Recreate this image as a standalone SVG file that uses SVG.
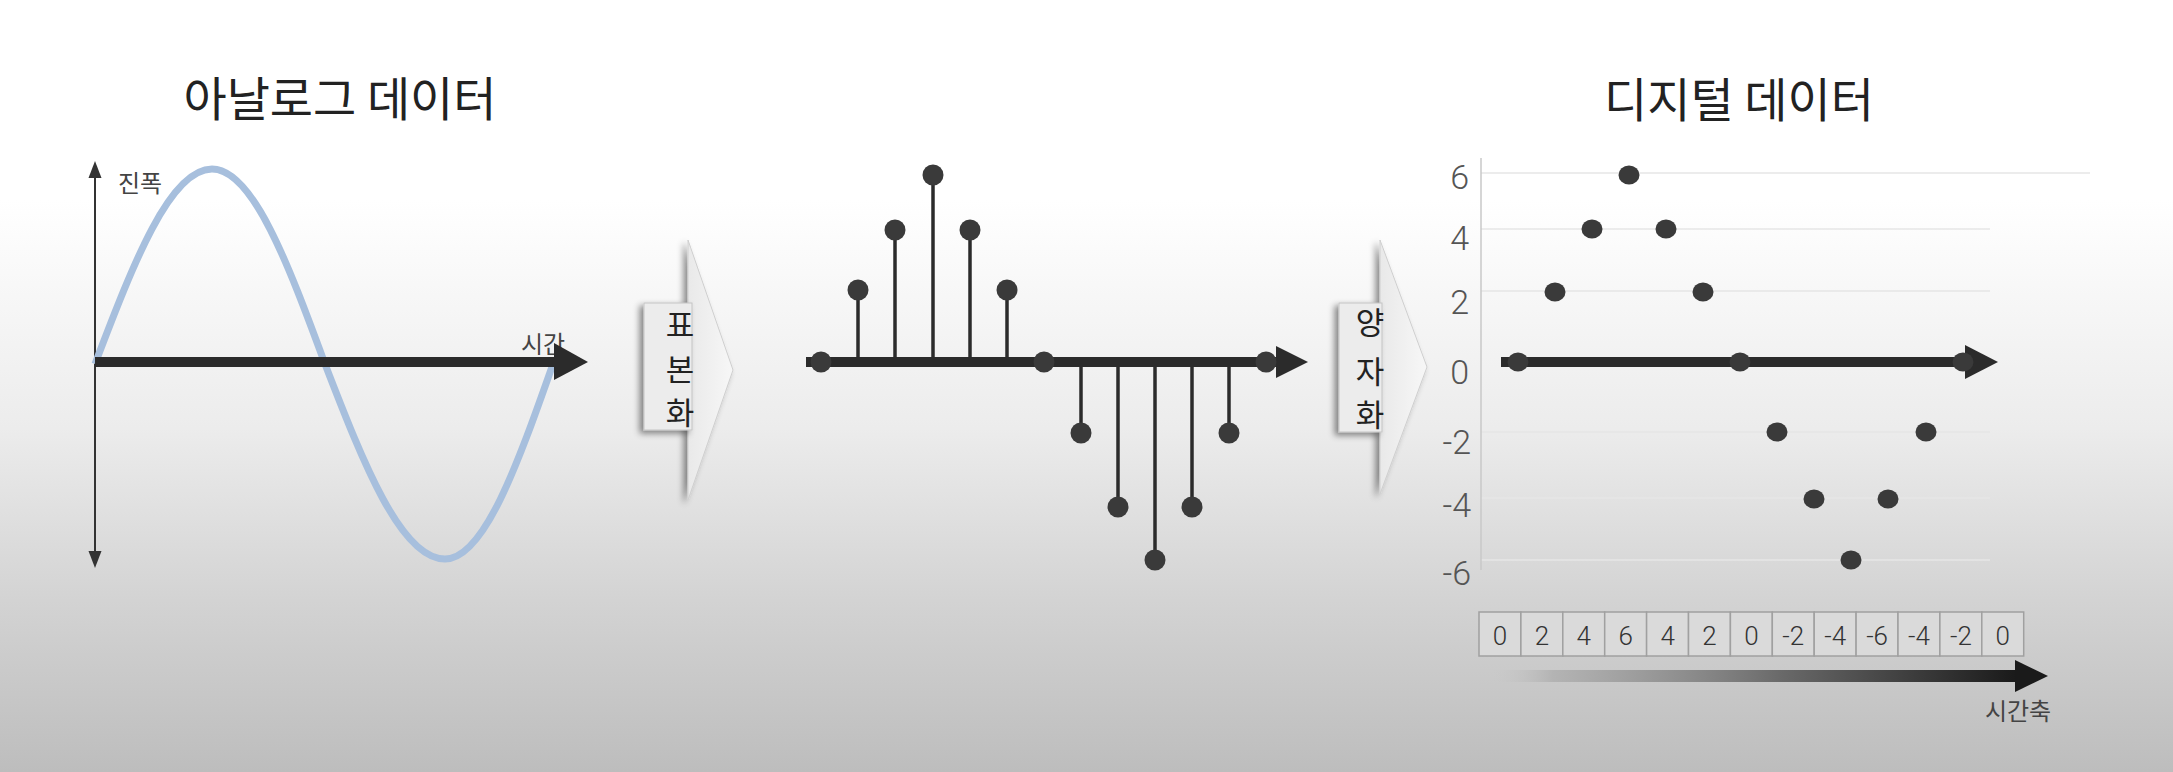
<svg xmlns="http://www.w3.org/2000/svg" width="2173" height="772" viewBox="0 0 2173 772">
<defs>
<linearGradient id="bg" gradientUnits="userSpaceOnUse" x1="0" y1="200" x2="0" y2="772">
<stop offset="0" stop-color="#ffffff"/>
<stop offset="0.4" stop-color="#ececec"/>
<stop offset="0.7" stop-color="#d3d3d3"/>
<stop offset="1" stop-color="#bdbdbd"/>
</linearGradient>
<linearGradient id="chev" x1="0" y1="0" x2="1" y2="0">
<stop offset="0" stop-color="#e9e9e9"/>
<stop offset="1" stop-color="#f7f7f7"/>
</linearGradient>
<linearGradient id="timebar" gradientUnits="userSpaceOnUse" x1="1490" y1="0" x2="2016" y2="0">
<stop offset="0" stop-color="#c8c8c8" stop-opacity="0"/>
<stop offset="0.12" stop-color="#aaaaaa" stop-opacity="0.7"/>
<stop offset="0.55" stop-color="#6a6a6a"/>
<stop offset="1" stop-color="#1a1a1a"/>
</linearGradient>
<filter id="shadow" x="-50%" y="-20%" width="200%" height="140%">
<feDropShadow dx="-4" dy="3" stdDeviation="3" flood-color="#000" flood-opacity="0.45"/>
</filter>
<style>
.title{font-family:'Noto Sans CJK KR',sans-serif;font-size:47px;fill:#222;text-anchor:middle}
.lbl{font-family:'Noto Sans CJK KR',sans-serif;font-size:24px;fill:#444}
.vlbl{font-family:'Noto Sans CJK KR',sans-serif;font-size:31px;fill:#222;text-anchor:middle;dominant-baseline:central}
.ytick{font-family:Roboto,'Liberation Sans',sans-serif;font-weight:300;font-size:34px;fill:#555;text-anchor:end}
.cell{font-family:Roboto,'Liberation Sans',sans-serif;font-weight:300;font-size:26px;fill:#333;text-anchor:middle}
.axis{stroke:#2b2b2b;stroke-width:10}
.stem{stroke:#2b2b2b;stroke-width:3.5}
.dot{fill:#3a3a3a}
.grid{stroke:#e6e6e6;stroke-width:1.5}
.box{fill:#dadada;stroke:#a0a0a0;stroke-width:1.5}
</style>
</defs>
<rect width="2173" height="772" fill="url(#bg)"/>

<g id="title-analog"><text class="title" x="340" y="116">아날로그 데이터</text></g>
<g id="title-digital"><text class="title" x="1739" y="117">디지털 데이터</text></g>

<g id="chart-analog">
<line x1="95" y1="174" x2="95" y2="555" stroke="#333" stroke-width="2"/>
<polygon points="95,161 88.5,178 101.5,178" fill="#333"/>
<polygon points="95,568 88.5,551 101.5,551" fill="#333"/>
<path d="M95,364 C133.1,264.1 169.6,169 212,169 C252.9,169 288.2,264.1 325,364 C363.5,463.9 401.2,559 445,559 C484.1,559 517.8,463.9 553,364" fill="none" stroke="#a7bfdd" stroke-width="7"/>
<text class="lbl" x="118" y="192">진폭</text>
<text class="lbl" x="521" y="353">시간</text>
<line class="axis" x1="95" y1="362" x2="558" y2="362"/>
<polygon points="554,343 588,362 554,380" fill="#2b2b2b"/>
</g>

<g id="connectors">
<g id="chevron-sampling">
<polygon points="688,240 733,370 688,500" fill="url(#chev)" stroke="#cfcfcf" stroke-width="1" filter="url(#shadow)"/>
<rect x="644" y="303" width="48" height="127" fill="#ececec" stroke="#c4c4c4" stroke-width="1" filter="url(#shadow)"/>
<text class="vlbl" x="680" y="322">표</text>
<text class="vlbl" x="680" y="367">본</text>
<text class="vlbl" x="680" y="410">화</text>
</g>
<g id="chevron-quantize">
<polygon points="1380,240 1427,367 1380,494" fill="url(#chev)" stroke="#cfcfcf" stroke-width="1" filter="url(#shadow)"/>
<rect x="1339" y="303" width="43" height="129" fill="#ececec" stroke="#c4c4c4" stroke-width="1" filter="url(#shadow)"/>
<text class="vlbl" x="1370" y="320">양</text>
<text class="vlbl" x="1370" y="369">자</text>
<text class="vlbl" x="1370" y="412">화</text>
</g>
</g>

<g id="chart-sampled">
<line class="stem" x1="858" y1="362" x2="858" y2="290"/>
<line class="stem" x1="895" y1="362" x2="895" y2="230"/>
<line class="stem" x1="933" y1="362" x2="933" y2="175"/>
<line class="stem" x1="970" y1="362" x2="970" y2="230"/>
<line class="stem" x1="1007" y1="362" x2="1007" y2="290"/>
<line class="stem" x1="1081" y1="362" x2="1081" y2="433"/>
<line class="stem" x1="1118" y1="362" x2="1118" y2="507"/>
<line class="stem" x1="1155" y1="362" x2="1155" y2="560"/>
<line class="stem" x1="1192" y1="362" x2="1192" y2="507"/>
<line class="stem" x1="1229" y1="362" x2="1229" y2="433"/>
<line class="axis" x1="806" y1="362" x2="1280" y2="362"/>
<polygon points="1276,346 1308,362 1276,378" fill="#2b2b2b"/>
<ellipse class="dot" cx="821" cy="362" rx="10.5" ry="10.5"/>
<ellipse class="dot" cx="858" cy="290" rx="10.5" ry="10.5"/>
<ellipse class="dot" cx="895" cy="230" rx="10.5" ry="10.5"/>
<ellipse class="dot" cx="933" cy="175" rx="10.5" ry="10.5"/>
<ellipse class="dot" cx="970" cy="230" rx="10.5" ry="10.5"/>
<ellipse class="dot" cx="1007" cy="290" rx="10.5" ry="10.5"/>
<ellipse class="dot" cx="1044" cy="362" rx="10.5" ry="10.5"/>
<ellipse class="dot" cx="1081" cy="433" rx="10.5" ry="10.5"/>
<ellipse class="dot" cx="1118" cy="507" rx="10.5" ry="10.5"/>
<ellipse class="dot" cx="1155" cy="560" rx="10.5" ry="10.5"/>
<ellipse class="dot" cx="1192" cy="507" rx="10.5" ry="10.5"/>
<ellipse class="dot" cx="1229" cy="433" rx="10.5" ry="10.5"/>
<ellipse class="dot" cx="1266" cy="362" rx="10.5" ry="10.5"/>
</g>

<g id="chart-digital">
<line class="grid" x1="1481" y1="173" x2="2090" y2="173"/>
<line class="grid" x1="1481" y1="229" x2="1990" y2="229"/>
<line class="grid" x1="1481" y1="291" x2="1990" y2="291"/>
<line class="grid" x1="1481" y1="432" x2="1990" y2="432"/>
<line class="grid" x1="1481" y1="498" x2="1990" y2="498"/>
<line class="grid" x1="1481" y1="560" x2="1990" y2="560"/>
<line x1="1481" y1="158" x2="1481" y2="570" stroke="#c8c8c8" stroke-width="1.5"/>
<text class="ytick" x="1469" y="189">6</text>
<text class="ytick" x="1469" y="250">4</text>
<text class="ytick" x="1469" y="314">2</text>
<text class="ytick" x="1469" y="384">0</text>
<text class="ytick" x="1471" y="454">-2</text>
<text class="ytick" x="1471" y="517">-4</text>
<text class="ytick" x="1471" y="585">-6</text>
<line class="axis" x1="1501" y1="362" x2="1968" y2="362"/>
<polygon points="1965,345 1998,362 1965,379" fill="#2b2b2b"/>
<ellipse class="dot" cx="1518" cy="362" rx="10.5" ry="9.5"/>
<ellipse class="dot" cx="1555" cy="292" rx="10.5" ry="9.5"/>
<ellipse class="dot" cx="1592" cy="229" rx="10.5" ry="9.5"/>
<ellipse class="dot" cx="1629" cy="175" rx="10.5" ry="9.5"/>
<ellipse class="dot" cx="1666" cy="229" rx="10.5" ry="9.5"/>
<ellipse class="dot" cx="1703" cy="292" rx="10.5" ry="9.5"/>
<ellipse class="dot" cx="1740" cy="362" rx="10.5" ry="9.5"/>
<ellipse class="dot" cx="1777" cy="432" rx="10.5" ry="9.5"/>
<ellipse class="dot" cx="1814" cy="499" rx="10.5" ry="9.5"/>
<ellipse class="dot" cx="1851" cy="560" rx="10.5" ry="9.5"/>
<ellipse class="dot" cx="1888" cy="499" rx="10.5" ry="9.5"/>
<ellipse class="dot" cx="1926" cy="432" rx="10.5" ry="9.5"/>
<ellipse class="dot" cx="1963" cy="362" rx="10.5" ry="9.5"/>
</g>

<g id="table-digital">
<rect class="box" x="1479" y="612" width="41.9" height="44"/>
<rect class="box" x="1520.9" y="612" width="41.9" height="44"/>
<rect class="box" x="1562.8" y="612" width="41.9" height="44"/>
<rect class="box" x="1604.7" y="612" width="41.9" height="44"/>
<rect class="box" x="1646.6" y="612" width="41.9" height="44"/>
<rect class="box" x="1688.5" y="612" width="41.9" height="44"/>
<rect class="box" x="1730.4" y="612" width="41.9" height="44"/>
<rect class="box" x="1772.3" y="612" width="41.9" height="44"/>
<rect class="box" x="1814.2" y="612" width="41.9" height="44"/>
<rect class="box" x="1856.1" y="612" width="41.9" height="44"/>
<rect class="box" x="1898" y="612" width="41.9" height="44"/>
<rect class="box" x="1939.9" y="612" width="41.9" height="44"/>
<rect class="box" x="1981.8" y="612" width="41.9" height="44"/>
<text class="cell" x="1500" y="645">0</text>
<text class="cell" x="1541.9" y="645">2</text>
<text class="cell" x="1583.8" y="645">4</text>
<text class="cell" x="1625.7" y="645">6</text>
<text class="cell" x="1667.6" y="645">4</text>
<text class="cell" x="1709.5" y="645">2</text>
<text class="cell" x="1751.4" y="645">0</text>
<text class="cell" x="1793.3" y="645">-2</text>
<text class="cell" x="1835.2" y="645">-4</text>
<text class="cell" x="1877.1" y="645">-6</text>
<text class="cell" x="1919" y="645">-4</text>
<text class="cell" x="1960.9" y="645">-2</text>
<text class="cell" x="2002.8" y="645">0</text>
</g>

<g id="time-axis">
<rect x="1490" y="670" width="527" height="12" fill="url(#timebar)"/>
<polygon points="2015,660 2048,676 2015,692" fill="#1a1a1a"/>
<text class="lbl" x="2018" y="720" text-anchor="middle">시간축</text>
</g>
</svg>
